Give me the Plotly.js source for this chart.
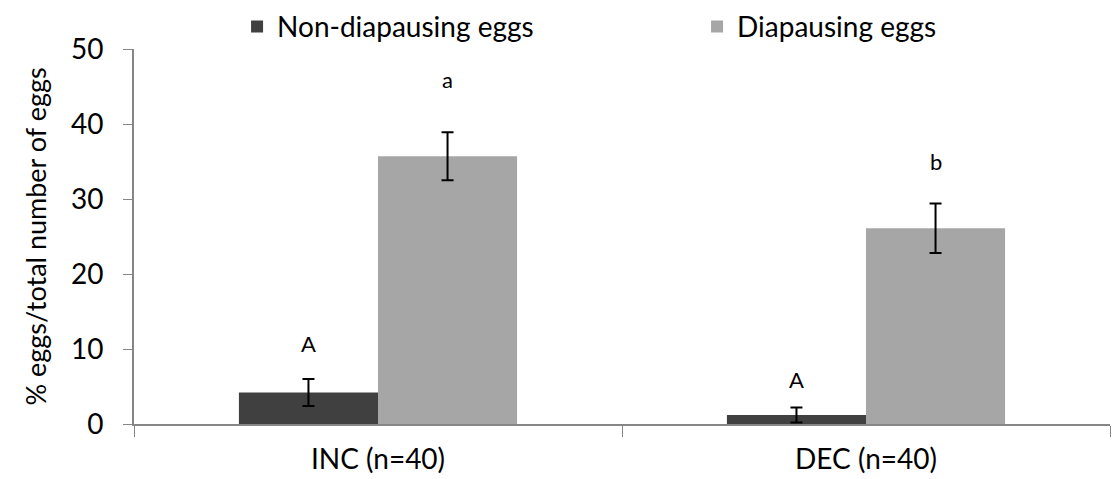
<!DOCTYPE html>
<html>
<head>
<meta charset="utf-8">
<script src="https://cdn.plot.ly/plotly-3.0.1.min.js"></script>
<style>
  html, body { margin: 0; padding: 0; background: #fff; }
  #chart { width: 1113px; height: 479px; }
</style>
</head>
<body>
<div id="chart"></div>
<script>
// Treatment groups
const groups = ["INC (n=40)", "DEC (n=40)"];

// Mean percentage of eggs per female, with error bars
const nonDiapausing = [4.2, 1.2];
const nonDiapausingErr = [1.8, 1.0];
const diapausing = [35.7, 26.1];
const diapausingErr = [3.2, 3.3];

// Significance letters shown above each bar
const lettersNon = ["A", "A"];
const lettersDia = ["a", "b"];
const letterHeightsNon = [10.7, 5.9];
const letterHeightsDia = [45.9, 35.0];

const yTicks = [0, 10, 20, 30, 40, 50];

const FONT = "Lato, 'Open Sans', sans-serif";

const traces = [
  {
    type: "bar",
    name: "Non-diapausing eggs",
    x: groups,
    y: nonDiapausing,
    marker: { color: "#404040" },
    error_y: { type: "data", array: nonDiapausingErr, visible: true, color: "#000", thickness: 2, width: 6 }
  },
  {
    type: "bar",
    name: "Diapausing eggs",
    x: groups,
    y: diapausing,
    marker: { color: "#a6a6a6" },
    error_y: { type: "data", array: diapausingErr, visible: true, color: "#000", thickness: 2, width: 6 }
  }
];

// Letters sit over the left/right bar of each group
const offset = 0.143;
const annotations = [];
groups.forEach((g, i) => {
  annotations.push({ x: i - offset, y: letterHeightsNon[i], xref: "x", yref: "y", text: lettersNon[i], showarrow: false, font: { family: FONT, size: 22, color: "#000" } });
  annotations.push({ x: i + offset, y: letterHeightsDia[i], xref: "x", yref: "y", text: lettersDia[i], showarrow: false, font: { family: FONT, size: 22, color: "#000" } });
});

const layout = {
  width: 1113,
  height: 479,
  margin: { l: 134, r: 3, t: 49, b: 54.5, autoexpand: false },
  paper_bgcolor: "#fff",
  plot_bgcolor: "#fff",
  font: { family: FONT, size: 28, color: "#000" },
  barmode: "group",
  bargap: 0.43,
  bargroupgap: 0,
  showlegend: true,
  legend: {
    orientation: "h",
    xref: "container",
    yref: "container",
    x: 0.213, xanchor: "left",
    y: 0.944, yanchor: "middle",
    entrywidth: 415,
    entrywidthmode: "pixels",
    font: { family: FONT, size: 28, color: "#000" },
    bgcolor: "rgba(0,0,0,0)"
  },
  xaxis: {
    type: "category",
    showline: true,
    linecolor: "#868686",
    linewidth: 2,
    ticks: "outside",
    tickson: "boundaries",
    ticklen: 11,
    tickcolor: "#868686",
    tickwidth: 1,
    showgrid: false,
    tickfont: { family: FONT, size: 28, color: "#000" },
    ticklabelstandoff: 9
  },
  yaxis: {
    range: [0, 50],
    tickvals: yTicks,
    showline: true,
    linecolor: "#868686",
    linewidth: 2,
    ticks: "outside",
    ticklen: 9,
    tickcolor: "#868686",
    tickwidth: 1,
    showgrid: false,
    zeroline: false,
    tickfont: { family: FONT, size: 28, color: "#000" },
    ticklabelstandoff: 14,
    title: { text: "% eggs/total number of eggs", font: { family: FONT, size: 27, color: "#000" }, standoff: 16 }
  },
  annotations: annotations
};

Plotly.newPlot("chart", traces, layout, { staticPlot: true, displayModeBar: false });
</script>
</body>
</html>
